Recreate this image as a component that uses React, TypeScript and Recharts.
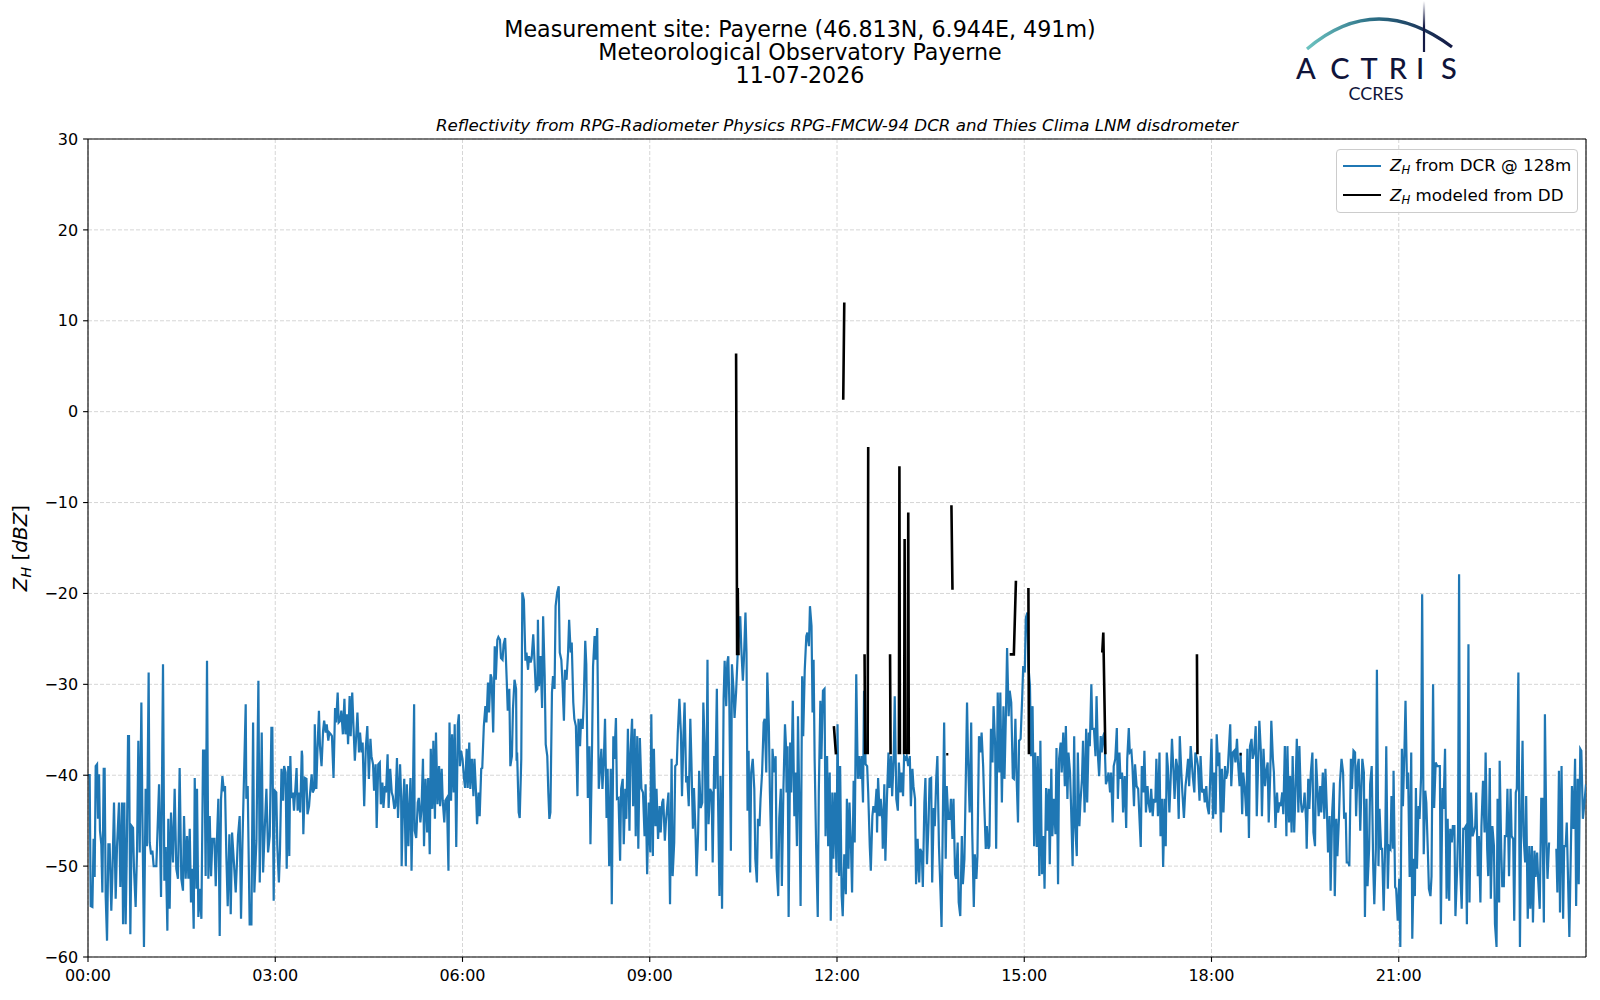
import React from 'react';
import { ComposedChart, Line, XAxis, YAxis, CartesianGrid, ReferenceLine } from 'recharts';

// ---- Tick definitions (minutes since 00:00 / dBZ) ----
const xMajorTicks = [0, 180, 360, 540, 720, 900, 1080, 1260];
const xMinorTicks = [0, 60, 120, 180, 240, 300, 360, 420, 480, 540, 600, 660, 720, 780, 840, 900, 960, 1020, 1080, 1140, 1200, 1260, 1320, 1380];
const yMajorTicks = [-60, -50, -40, -30, -20, -10, 0, 10, 20, 30];
const yMinorTicks = [-60, -58, -56, -54, -52, -50, -48, -46, -44, -42, -40, -38, -36, -34, -32, -30, -28, -26, -24, -22, -20, -18, -16, -14, -12, -10, -8, -6, -4, -2, 0, 2, 4, 6, 8, 10, 12, 14, 16, 18, 20, 22, 24, 26, 28, 30];

// ---- Z_H from DCR @ 128m : [minute of day, dBZ] ----
const dcr_00_03 = [[0,-40],[1.6,-40],[2.6,-54.4],[4.2,-54.5],[5.4,-47],[6.4,-51.2],[7.4,-39],[8.7,-38.8],[9.6,-44.8],[10.6,-39.9],[11.5,-46.1],[12.8,-47.6],[13.8,-52.9],[15.1,-39.3],[16,-39.3],[17,-53.3],[18.3,-58.2],[19.6,-47.6],[20.8,-47.6],[22.4,-54.9],[23.4,-51.2],[25,-43],[26.6,-53.6],[27.9,-47.8],[29.8,-43],[31.1,-52.3],[32.7,-43],[33.7,-56.4],[34.9,-43],[36.2,-56.4],[37.2,-49.2],[38.5,-35.7],[39.4,-35.7],[40.7,-57.5],[42,-45.6],[43.3,-45.8],[44.2,-50.3],[45.8,-54.5],[47.1,-48.5],[48.4,-36.2],[49.7,-48.5],[51.3,-32],[52.2,-43.4],[53.8,-58.9],[55.4,-41.5],[56.7,-47.8],[58.3,-28.7],[59.3,-47.4],[60.6,-48.7],[61.9,-48.3],[63.1,-50],[65.7,-50],[68.3,-41],[70.2,-53.4],[72.1,-27.8],[73.4,-51.6],[74.7,-47.9],[76.3,-57.1],[77.2,-44.8],[78.5,-54.7],[79.8,-44.1],[81.7,-49.6],[83.3,-41.5],[84.9,-50.3],[86.5,-51.4],[88.1,-39.2],[89.7,-51.4],[91.3,-52.7],[92.3,-44.5],[93.9,-51.4],[95.2,-46.7],[96.5,-51.4],[97.8,-45.9],[99,-54],[100.3,-50.3],[101.6,-56.9],[102.6,-40.3],[104.2,-52.5],[104.8,-41.5],[106.1,-55.6],[107.4,-52.5],[109,-55.8],[110.6,-37.3],[111.9,-37.3],[113.1,-51.1],[114.4,-27.4],[115.7,-51.4],[117,-44.5],[118.3,-51.1],[119.6,-47],[121.5,-47],[122.8,-52.2],[124,-47],[125.3,-42.6],[126.6,-57.7],[127.9,-42.6],[129.2,-40.1],[130.4,-41.5],[131.7,-41.2],[133,-48.9],[134.3,-54.4],[135.9,-46.5],[137.2,-55.3],[138.5,-46.3],[142,-52.9],[144.2,-46.7],[145.8,-44.5],[147.1,-55.8],[148.4,-47.8],[151.6,-32.2],[152.2,-42.6],[153.5,-41.2],[155.4,-56.4],[157.1,-56.4],[158.7,-34.2],[159.9,-52.9],[161.9,-47.2],[163.8,-29.6],[165.1,-51.8],[167,-35.3],[168.3,-50.7],[169.9,-45.9],[171.5,-41.5],[173.1,-48.5],[174.7,-46.7],[176.3,-34.8],[177.2,-34.8],[178.5,-53.8],[179.5,-41.7]];
const dcr_03_06 = [[181,-41.9],[182,-47.8],[183.5,-51.8],[184.5,-48.5],[186,-39.3],[187.5,-42.8],[188.5,-39],[190,-39.7],[191,-50.3],[192.5,-39],[193.5,-48.9],[194.5,-37.9],[195.5,-42.5],[197,-41.9],[198,-43.9],[199.5,-41.2],[200.5,-39.2],[201.5,-43.9],[202.5,-41.9],[204,-44.1],[205.5,-37.3],[206,-37.9],[207,-46.5],[208.5,-40.3],[210,-40.4],[211,-44.3],[212.5,-43.4],[213.5,-41.9],[215,-39.9],[216,-41.9],[217.5,-41.5],[218,-34.4],[219.5,-41.5],[220.5,-37.5],[222,-32.9],[223,-36.8],[224.5,-39],[226,-35.1],[227,-34],[228.5,-35.3],[229.5,-34.4],[231,-36.2],[232,-35.3],[233.5,-35.5],[234.5,-35.7],[236,-40.3],[237.5,-32.6],[238.5,-34.2],[240,-30.9],[241,-34.2],[242.5,-34],[243.5,-32.9],[245,-35.5],[246.5,-31.6],[247.5,-35.5],[249,-33.3],[250,-36.6],[251.5,-31.3],[252.5,-35.7],[254,-30.9],[255.5,-35.5],[256.5,-38.4],[258,-35.3],[259,-33.1],[260.5,-37.5],[261.5,-35.3],[263,-37.5],[264,-36.4],[265.5,-43.4],[267,-37.1],[268.5,-34.6],[270,-40.4],[271.5,-36],[272.5,-37.9],[274,-38.8],[275,-41.7],[276.5,-38.8],[277.5,-45.8],[279,-38.8],[280.5,-38.6],[281.5,-43.2],[283,-40.8],[284,-43.6],[285.5,-41.2],[286.5,-41.9],[288,-37.7],[289,-43.6],[290.5,-39.3],[292,-41.9],[293,-42.3],[294.5,-43.7],[295.5,-43.4],[297,-38.1],[298,-44.7],[300,-38.8],[301,-42.3],[301.5,-50],[302.5,-44.8],[304,-40.4],[305.5,-50],[306.5,-41],[308,-47.8],[309,-43.4],[310,-40.3],[311,-50.5],[312.5,-40.4],[313.5,-32.2],[314,-46.1],[315.5,-46.9],[317,-43],[318,-42.5],[319.5,-45.2],[320.5,-43.9],[322,-38.2],[323,-47.8],[324.5,-40.4],[326,-46.3],[327,-40.3],[328.5,-48.7],[329.5,-37.1],[331,-43.7],[332,-36.2],[333.5,-44.8],[334.5,-35.3],[336,-43.2],[337.5,-39],[338.5,-43.4],[340,-39.3],[341,-42.8],[342.5,-45.2],[343.5,-42.8],[345,-42.5],[346.5,-50.5],[347.5,-34.2],[349,-42.8],[350,-35.5],[351.5,-41.9],[352.5,-34.4],[354,-47.9],[355.5,-34.4],[356.5,-33.3],[357.5,-39],[358.5,-37.3]];
const dcr_06_09 = [[360,-38.2],[361.5,-40.4],[362.5,-41.4],[364,-37.1],[365,-41.4],[366.5,-36.4],[367.5,-41.5],[369,-38.2],[370.5,-42.3],[371.5,-38.2],[373,-41.9],[374,-45.4],[375.5,-41.9],[376.5,-44.5],[378,-39.3],[379,-39.2],[380.5,-34.6],[382,-32.4],[383,-34.2],[384.5,-29.8],[385.5,-33.1],[387,-28.9],[388,-29.3],[389.5,-35.3],[391,-25.8],[392,-29.5],[393.5,-25.1],[394.5,-24.8],[396,-25.1],[397,-27.1],[398.5,-27.3],[399.5,-25.6],[401,-24.9],[402.5,-29.5],[403.5,-32.9],[405,-30.5],[406,-39],[407.5,-37.9],[408.5,-32.7],[410,-29.5],[411.5,-30.5],[412,-38.4],[412.5,-37.5],[414,-44.1],[415,-44.7],[416.5,-38.2],[417.5,-19.9],[419,-20.7],[420.5,-27.4],[421.5,-26.5],[423,-28.4],[424,-26.9],[425.5,-27.6],[426.5,-27.1],[428,-24.5],[429,-26.9],[430.5,-30.7],[432,-30.5],[432.5,-22.9],[433.5,-30.2],[435,-26.9],[436.5,-32.6],[437.5,-22.5],[439,-29.1],[440,-36.6],[441.5,-37.9],[442.5,-41.9],[443.5,-44.8],[444.5,-44.1],[446,-30.9],[447,-29.1],[448.5,-30.5],[449.5,-21.4],[451,-19.9],[452.5,-19.2],[453.5,-26.5],[455,-27.3],[456,-29.5],[457.5,-34],[458.5,-28.4],[460,-29.5],[461.5,-26.5],[462.5,-22.9],[464,-26.5],[465,-25.4],[466.5,-32],[467.5,-33.8],[469,-34.6],[470.5,-42.3],[471.5,-33.8],[473,-36.8],[474,-33.8],[475.5,-34.9],[476.5,-32],[478,-25.2],[479,-27.8],[480.5,-42.5],[482,-36.8],[483,-47.6],[484.5,-37.1],[485.5,-28],[487,-24.7],[488,-27.3],[489.5,-23.8],[491,-41.5],[492,-39.7],[493.5,-37.1],[494.5,-41.5],[496,-37.9],[497,-33.8],[498.5,-44.7],[499.5,-39.3],[501,-50],[502.5,-39.3],[503.5,-54.2],[505,-35.7],[506,-38.2],[507.5,-33.7],[508.5,-42.6],[510,-42.5],[511.5,-49.4],[512.5,-41.5],[514,-40.4],[515,-47.6],[516.5,-41.5],[517.5,-44.8],[519,-34.9],[520.5,-46.1],[521.5,-37.5],[523,-33.8],[524,-43.4],[525.5,-34.9],[526.5,-46.7],[528,-35.7],[529,-48.1],[530.5,-35.9],[532,-41.5],[533.5,-41.9],[535,-46.7],[536,-41],[537.5,-50.9],[539,-43]];
const dcr_09_12 = [[540.5,-48.5],[541.5,-33.3],[543,-48.9],[544,-37.1],[545.5,-45.6],[546.5,-41.5],[548,-47],[549.5,-43.4],[550.5,-46.3],[552,-43],[553,-42.6],[554.5,-47.2],[555.5,-45.2],[557,-43.2],[558,-41.9],[559.5,-54.2],[561,-38.2],[562,-51.1],[563.5,-47.4],[564.5,-39],[566,-38.8],[567,-35.3],[568.5,-31.6],[570,-35.5],[571,-42.3],[572.5,-35.3],[573.5,-32],[575,-40.8],[576,-40.1],[577.5,-43.4],[579,-33.8],[580,-38.2],[581.5,-45.9],[582.5,-41.4],[584,-46.3],[585,-51.1],[586.5,-46.3],[587.5,-39.5],[589,-43.6],[590.5,-43],[591.5,-32],[593,-37.5],[594,-48.3],[595.5,-27.3],[596.5,-45.4],[598,-41.5],[599.5,-41.9],[600.5,-49.6],[602,-37.9],[603,-41.5],[604.5,-30.5],[605.5,-41.5],[607,-53.3],[608,-40.1],[609.5,-54.7],[611,-31.6],[612,-27.4],[613.5,-32.4],[614.5,-27.6],[615.5,-26.9],[616.5,-32],[618,-48.3],[619,-27.8],[620.5,-30.5],[621.5,-33.7],[623,-30.9],[624.5,-26.7],[625.5,-24.7],[627,-22.5],[628,-26],[629.5,-29.6],[630.5,-27.3],[632,-22.1],[633,-26.5],[634,-43.9],[635,-37.3],[636.5,-50.7],[637.5,-39.7],[639,-38.2],[640.5,-41.5],[641.5,-49.2],[643,-51.8],[644,-44.8],[645.5,-45.6],[646.5,-42.6],[648,-39.7],[649.5,-34.2],[650.5,-33.8],[652,-39.7],[653,-28.7],[654.5,-34.6],[655.5,-41.9],[657,-49.2],[658,-37.1],[659.5,-39.7],[661,-37.9],[662,-50.3],[663.5,-53.3],[664.5,-44.7],[666,-41.5],[667,-52.2],[668.5,-41.5],[670,-34.4],[671,-36.8],[671.5,-41.9],[672.5,-36.8],[673.5,-55.6],[675,-36.4],[676,-41.9],[677.5,-31.8],[679,-44.5],[680,-39.7],[681.5,-47.8],[682.5,-33.5],[684,-44.8],[685,-54.4],[686.5,-29.1],[687.5,-35.7],[689,-28.4],[690.5,-24.7],[691.5,-24.3],[693,-25.8],[694,-21.4],[695.5,-23.6],[696.5,-33.1],[697.5,-27.3],[698.5,-38.2],[700,-48.1],[701.5,-55.6],[702.5,-41.9],[704,-31.8],[705,-38.2],[706.5,-30.7],[708,-30.5],[709,-46.7],[710.5,-37.9],[711.5,-47.8],[713,-39.7],[714,-56],[715.5,-41.9],[716.5,-49.2],[718,-41.9],[719.5,-50.7]];
const dcr_12_15 = [[720.5,-34.4],[722,-51.1],[723,-39],[724.5,-53.3],[725.5,-55.5],[727,-48.7],[728.5,-53.1],[729.5,-42.6],[731,-50.3],[732,-43],[733.5,-48.1],[734.5,-52.9],[736,-40.6],[737,-47.4],[738.5,-28.9],[740,-40.4],[741,-37.9],[742.5,-40.4],[743.5,-37.9],[745,-43],[746,-30.7],[747.5,-38.8],[749,-39],[750,-41.9],[751.5,-47.8],[752.5,-50.5],[754,-44.5],[755,-43.4],[756.5,-44.1],[758,-41.5],[758.5,-46.3],[759.5,-40.3],[761,-44.5],[762,-42.6],[763.5,-44.8],[764,-48.1],[765.5,-41],[766.5,-49.4],[768,-42.6],[769.5,-37.5],[770.5,-41.4],[772,-37.9],[773,-42.3],[774.5,-38.2],[775.5,-31.3],[777,-42.6],[778.5,-43.9],[779.5,-38.6],[781,-41.9],[782,-39.7],[783.5,-42.3],[784.5,-37.9],[786,-38.2],[787,-37.9],[788.5,-39],[790,-37.9],[791,-43.4],[792.5,-39.3],[793.5,-41.2],[795,-42.6],[796,-52],[797.5,-47],[799,-51.8],[800,-48.1],[801.5,-48.5],[802.5,-52.3],[804,-43],[805,-40.3],[806.5,-49.8],[808,-45.2],[809,-40.4],[810.5,-40.3],[811.5,-51.8],[813,-43.6],[814,-45.6],[815.5,-40.1],[816.5,-37.9],[818,-47.8],[819.5,-52.9],[820.5,-56.7],[822,-42.3],[823,-34.2],[824.5,-49.2],[825.5,-41.2],[827,-44.8],[828.5,-44.8],[829.5,-42.6],[831,-47],[832,-42.6],[833.5,-50.9],[834.5,-51.4],[836,-47.4],[837,-54],[838.5,-55.5],[840,-46.7],[841,-52],[842.5,-49.2],[843.5,-42.6],[845,-32],[846,-38.2],[847.5,-44.1],[849,-34.2],[850,-46.3],[851.5,-54.5],[852.5,-48.7],[854,-51.4],[855,-48.9],[856.5,-35.7],[858,-37.5],[859,-35.3],[860.5,-39],[861.5,-43],[863,-48.1],[864,-45.6],[865.5,-48.1],[866.5,-47.8],[868,-34.9],[869.5,-38.6],[870.5,-32.4],[872,-36.6],[873,-48.1],[874.5,-30.9],[876,-39.7],[877,-30.9],[878.5,-43],[880,-32.4],[881,-40.4],[882.5,-32.6],[883.5,-26],[885,-33.5],[886,-30.7],[887.5,-32],[889,-40.3],[890,-40.4],[891.5,-33.8],[892.5,-39.7],[894,-45.2],[895,-36.2],[896.5,-36],[898,-31.5],[899,-28]];
const dcr_15_18 = [[900.5,-28.7],[901.5,-22.7],[903,-22.1],[904,-28],[905.5,-30.2],[906.5,-37.9],[908,-32.4],[909.5,-47.8],[910.5,-37.5],[912,-47.9],[913,-37.9],[914.5,-51.1],[915.5,-36.2],[917,-50.9],[918.5,-46.7],[919.5,-52.5],[921,-41.4],[922,-46.1],[923.5,-41.5],[924.5,-49.8],[926,-39.3],[927,-46.7],[928.5,-42.6],[930,-46.5],[931,-37],[932.5,-52],[933.5,-38.2],[935,-36.4],[936,-39.7],[937.5,-35.3],[939,-41.2],[940,-34.6],[941.5,-42.6],[942.5,-37.5],[944,-39.7],[945,-43.4],[946.5,-50],[948,-35.7],[949,-45.6],[950.5,-48.9],[951.5,-37.5],[953,-45.6],[954,-43],[955.5,-40.4],[956.5,-36.2],[958,-44.1],[959.5,-34.9],[960.5,-43],[962,-35.3],[963,-36.8],[964.5,-30],[965.5,-34.9],[967,-34.9],[968.5,-37.9],[969.5,-31.3],[971,-38.2],[972,-40.1],[973.5,-35.7],[974.5,-37.5],[976,-35.7],[977,-35.3],[978.5,-41],[980,-40.4],[981,-39.7],[982.5,-41.9],[983.5,-39.7],[985,-45.2],[986,-39],[987.5,-38.2],[989,-34.8],[990,-42.6],[991.5,-37.5],[992.5,-40.4],[994,-39.7],[995,-44.1],[996.5,-40.1],[998,-45.8],[999,-38.2],[1000.5,-34.8],[1001.5,-37.5],[1003,-37.3],[1004,-39],[1005.5,-43.4],[1006.5,-38.8],[1008,-41.2],[1009.5,-41.5],[1010.5,-44.1],[1012,-47.9],[1013,-39],[1014.5,-41.9],[1015.5,-37.3],[1017,-44.1],[1018.5,-41.2],[1019.5,-43],[1021,-44.1],[1022,-41.5],[1023.5,-44.5],[1024.5,-42.6],[1026,-43],[1027,-38.2],[1028.5,-44.5],[1030,-37.5],[1031,-46.7],[1032.5,-42.6],[1033.5,-50.1],[1035,-42.6],[1036,-47.8],[1037,-37.5],[1038,-39],[1039.5,-44.1],[1040.5,-41.2],[1042,-36],[1043.5,-39.7],[1044.5,-42.6],[1046,-38.2],[1047,-39],[1048.5,-44.8],[1049.5,-35.7],[1051,-39.7],[1052,-41.9],[1053.5,-44.7],[1055,-41.2],[1056,-40.1],[1057.5,-38.2],[1058.5,-41.2],[1060,-36.8],[1062,-40.1],[1063.5,-41.9],[1064.5,-37.5],[1066,-38.2],[1067,-39],[1068.5,-42.8],[1069.5,-37.9],[1071,-41.9],[1072.5,-41.5],[1073.5,-43],[1075,-41.2],[1076,-43.4],[1077.5,-44.3],[1078.5,-41.2]];
const dcr_18_21 = [[1080,-36],[1081.5,-44.8],[1082.5,-39.7],[1084,-44.3],[1085,-35.5],[1086.5,-39],[1087.5,-37.5],[1089,-46.3],[1090,-39.3],[1091.5,-44.1],[1093,-39],[1094,-40.4],[1095.5,-39.7],[1096.5,-37.5],[1098,-34.4],[1099,-41.2],[1100.5,-37.5],[1102,-37.3],[1103,-38.6],[1104.5,-36],[1105.5,-38.6],[1107,-41.2],[1108,-37.5],[1109.5,-44.3],[1110.5,-39.7],[1112,-41.5],[1113.5,-44.5],[1114.5,-37.1],[1116,-46.9],[1117,-36.8],[1118.5,-36],[1119.5,-38.2],[1121,-37.5],[1122.5,-34.6],[1123.5,-44.5],[1125,-37.9],[1126,-34],[1127.5,-37.5],[1128.5,-44.5],[1130,-37.1],[1131.5,-41.2],[1132.5,-39.7],[1134,-38.6],[1135,-45.2],[1136.5,-39.7],[1137.5,-34],[1139,-38.2],[1140,-39.7],[1141.5,-45.8],[1143,-41.9],[1144,-44.1],[1145.5,-43],[1146.5,-43.4],[1148,-41.9],[1149,-44.3],[1150.5,-36.8],[1152,-46.7],[1153,-36.8],[1154.5,-45.2],[1155.5,-40.1],[1157,-46.3],[1158,-37.9],[1159.5,-46.3],[1160.5,-42.6],[1162,-36],[1163.5,-44.1],[1164.5,-36.8],[1166,-43],[1167,-44.1],[1168.5,-43.4],[1169.5,-41.9],[1171,-45.2],[1171.5,-48.1],[1173,-40.4],[1174,-43.7],[1175.5,-39.7],[1177,-37.5],[1178,-46.3],[1179.5,-47.8],[1180.5,-38.2],[1182,-41.9],[1183,-44.5],[1184.5,-41.2],[1185.5,-44.1],[1187,-39.7],[1188.5,-44.8],[1189.5,-39.3],[1191,-44.1],[1192,-48.5],[1193.5,-44.5],[1194.5,-52.7],[1196,-44.1],[1197.5,-40.8],[1198.5,-53.3],[1200,-44.8],[1201,-48.9],[1202.5,-44.8],[1203.5,-40.8],[1205,-38.2],[1206.5,-39.7],[1207.5,-44.8],[1209,-44.1],[1210,-49.6],[1211.5,-49.6],[1212.5,-50],[1214,-38.2],[1215,-41.5],[1216.5,-37.3],[1218,-37.5],[1219,-44.5],[1220.5,-39],[1221.5,-38.2],[1223,-46.1],[1224,-41.9],[1225,-38.2],[1226.5,-39.7],[1227.5,-55.6],[1229,-42.6],[1230,-52.2],[1231.5,-48.1],[1232.5,-41],[1234,-39],[1235.5,-50.3],[1236.5,-54.2],[1238,-48.1],[1239,-28.4],[1240.5,-50],[1241.5,-43.7],[1243,-48.1],[1244,-48.1],[1245.5,-54.9],[1247,-47.4],[1248,-36.8],[1249.5,-52.5],[1250.5,-47.8],[1252,-48.1],[1253,-42.3],[1254.5,-48.1],[1255,-39.5],[1256.5,-52.3],[1257.5,-52.5],[1259,-56]];
const dcr_21_24 = [[1260.5,-51.4],[1261.5,-58.9],[1263,-37.1],[1264,-43.4],[1265.5,-37.1],[1266.5,-31.8],[1268,-41.5],[1269,-39.7],[1270.5,-51.2],[1272,-37.5],[1273,-58],[1274.5,-49.2],[1275.5,-53.3],[1276.5,-41.4],[1277.5,-50.3],[1279,-43.4],[1280,-44.8],[1281.5,-40.1],[1282.5,-20.1],[1284,-48.7],[1285.5,-41.7],[1286.5,-43],[1288,-48.5],[1289,-52.5],[1290.5,-53.3],[1291.5,-51.1],[1293,-30],[1294,-43.6],[1295.5,-38.6],[1297,-39],[1298,-39],[1299.5,-39],[1300.5,-56.4],[1302,-41.4],[1303,-43.7],[1304.5,-37.1],[1306,-53.6],[1307,-44.8],[1308.5,-53.8],[1309.5,-45.9],[1311,-47.4],[1312,-45.6],[1313.5,-45.6],[1314.5,-55.5],[1316,-50.7],[1317,-46.3],[1318,-17.9],[1319,-50],[1320.5,-54.7],[1322,-45.9],[1323,-45.9],[1324.5,-45.6],[1325.5,-56.4],[1327,-25.6],[1328,-54],[1329.5,-41.9],[1331,-46.7],[1332,-46.3],[1333.5,-45.6],[1334.5,-41.9],[1336,-51.1],[1337,-46.7],[1338.5,-54],[1339.5,-45.6],[1341,-40.6],[1342.5,-46.3],[1343.5,-37.5],[1345,-48.1],[1346,-51.1],[1347.5,-39.2],[1348.5,-53.6],[1350,-45.6],[1351.5,-47.8],[1352.5,-56.4],[1354,-58.9],[1355,-42.6],[1356.5,-54],[1357,-38.4],[1358.5,-48.1],[1359.5,-52.2],[1361,-52.2],[1362,-46.7],[1363.5,-46.7],[1364.5,-41.5],[1366,-51.1],[1367.5,-41.5],[1368.5,-46.7],[1370,-47],[1371,-56],[1372.5,-41.9],[1373.5,-41.5],[1375,-28.7],[1376.5,-58.9],[1377.5,-46.7],[1379,-36.2],[1380,-46.7],[1381.5,-49.6],[1382.5,-42.3],[1384,-55.8],[1385.5,-47.8],[1386.5,-54.7],[1388,-47.8],[1389,-56.2],[1390.5,-48.3],[1391.5,-51.2],[1393,-48.5],[1394,-51.4],[1395.5,-54.7],[1397,-42.6],[1398,-42.6],[1399.5,-56.2],[1400.5,-33.3],[1402,-47.4],[1403,-51.4],[1404.5,-47.4],[1408,null],[1411.5,-48.1],[1412.5,-52.9],[1414,-39.5],[1415,-55.1],[1416.5,-39],[1418,-55.8],[1419,-47.8],[1420.5,-47.8],[1421.5,-45.2],[1424,-57.8],[1426.5,-41.2],[1428,-45.9],[1429.5,-38.2],[1430.5,-54.4],[1432,-40.4],[1433,-52],[1434.5,-37.1],[1435.5,-37.3],[1437,-44.8],[1438.5,-43],[1440,-41]];

// ---- Z_H modeled from disdrometer (null = no precipitation / gap) ----
const ddSeries = [[623,6.4],[624,-26.8],[624.6,-19.4],[625.3,-26.8],[626,null],[717,-34.6],[719,-37.7],[720,null],[726,1.3],[727,12],[728,null],[746.5,-26.7],[747,-37.7],[748,null],[749.5,-37.7],[750,-3.9],[751,null],[771,-26.7],[771.5,-37.7],[772,null],[779.5,-37.7],[780,-6],[780.5,-37.7],[781,null],[784.5,-37.7],[785,-14],[785.5,-37.7],[786,null],[788,-37.7],[788.5,-11.1],[789,-37.7],[790,null],[825,-37.7],[827,-37.7],[828,null],[830,-10.3],[831,-19.6],[832,null],[886,-26.7],[890,-26.7],[892,-18.6],[893,null],[904,-19.4],[904.5,-37.7],[905,null],[975,-26.5],[976,-24.3],[978,-37.7],[979,null],[1066,-26.7],[1066.5,-37.7],[1067,null],[1107,-37.7],[1109,-37.7]];

const titleLines = ['Measurement site: Payerne (46.813N, 6.944E, 491m)', 'Meteorological Observatory Payerne', '11-07-2026'];
const subtitle = 'Reflectivity from RPG-Radiometer Physics RPG-FMCW-94 DCR and Thies Clima LNM disdrometer';

const toRows = (pairs: (number | null)[][]) => pairs.map(([t, v]) => ({ t, v }));
const dcrData = toRows([...dcr_00_03, ...dcr_03_06, ...dcr_06_09, ...dcr_09_12, ...dcr_12_15, ...dcr_15_18, ...dcr_18_21, ...dcr_21_24]);
const ddData = toRows(ddSeries);

const FONT = '"DejaVu Sans", sans-serif';
const TICK_FS = 16;
const fmtTime = (m: number) => `${String(Math.floor(m / 60)).padStart(2, '0')}:${String(m % 60).padStart(2, '0')}`;
const fmtY = (v: number) => (v < 0 ? '\u2212' + Math.abs(v) : String(v));

const ZH = () => (
  <span><i>Z</i><sub style={{ fontSize: '0.7em', fontStyle: 'italic', verticalAlign: '-0.25em' }}>H</sub></span>
);

const Logo = () => (
  <svg width={1600} height={110} style={{ position: 'absolute', left: 0, top: 0 }}>
    <defs>
      <linearGradient id="arcG" x1="1307" y1="0" x2="1451" y2="0" gradientUnits="userSpaceOnUse">
        <stop offset="0" stopColor="#6cc3c0" />
        <stop offset="0.45" stopColor="#2c6f86" />
        <stop offset="1" stopColor="#141a45" />
      </linearGradient>
      <linearGradient id="vG" x1="0" y1="1" x2="0" y2="52" gradientUnits="userSpaceOnUse">
        <stop offset="0" stopColor="#ffffff" />
        <stop offset="0.5" stopColor="#141a45" />
        <stop offset="1" stopColor="#141a45" />
      </linearGradient>
    </defs>
    <path d="M1307 49 Q1376 -10 1452 47" fill="none" stroke="url(#arcG)" strokeWidth={3.2} />
    <line x1={1424} y1={1} x2={1424} y2={52} stroke="url(#vG)" strokeWidth={2.2} />
    <text x="1306 1340 1369 1398 1420 1449" y={78.5} fontSize={29} fontWeight={500} fontFamily="Lato, sans-serif" fill="#10143a" textAnchor="middle">ACTRIS</text>
    <text x={1376} y={99.5} fontSize={18} fontFamily="Lato, sans-serif" fill="#10143a" textAnchor="middle">CCRES</text>
  </svg>
);

export default function App() {
  return (
    <div style={{ position: 'absolute', left: 0, top: 0, width: 1600, height: 1000, background: '#fff', fontFamily: FONT, color: '#000' }}>
      {titleLines.map((s, i) => (
        <div key={i} style={{ position: 'absolute', left: 0, width: 1600, top: 16 + i * 23, textAlign: 'center', fontSize: 22.2, lineHeight: '26px', whiteSpace: 'nowrap' }}>{s}</div>
      ))}
      <div style={{ position: 'absolute', left: 88, width: 1498, top: 115, textAlign: 'center', fontSize: 16.7, fontStyle: 'italic', lineHeight: '21px', whiteSpace: 'nowrap' }}>{subtitle}</div>
      <Logo />
      <div style={{ position: 'absolute', left: 23, top: 548, transform: 'translate(-50%, -50%) rotate(-90deg)', fontSize: 20, whiteSpace: 'nowrap', lineHeight: '24px' }}>
        <ZH /> [<i>dBZ</i>]
      </div>
      <ComposedChart width={1600} height={1000} margin={{ top: 139, right: 14, bottom: 13, left: 28 }} style={{ position: 'absolute', left: 0, top: 0 }}>
        <CartesianGrid stroke="#d6d6d6" strokeDasharray="4 2" strokeWidth={1} />
        <XAxis xAxisId="minor" type="number" dataKey="t" domain={[0, 1440]} ticks={xMinorTicks} interval={0} tick={false} tickSize={2.8} height={0} axisLine={false} tickLine={{ stroke: '#000', strokeWidth: 1 }} allowDataOverflow />
        <XAxis type="number" dataKey="t" domain={[0, 1440]} ticks={xMajorTicks} interval={0} tickFormatter={fmtTime} tickSize={4.9} tickMargin={8} height={30} axisLine={{ stroke: '#000', strokeWidth: 1.1 }} tickLine={{ stroke: '#000', strokeWidth: 1.1 }} tick={{ fill: '#000', fontSize: TICK_FS, fontFamily: FONT }} allowDataOverflow />
        <YAxis yAxisId="minor" type="number" domain={[-60, 30]} ticks={yMinorTicks} interval={0} tick={false} tickSize={2.8} width={0} axisLine={false} tickLine={{ stroke: '#000', strokeWidth: 1 }} allowDataOverflow />
        <YAxis type="number" domain={[-60, 30]} ticks={yMajorTicks} interval={0} tickFormatter={fmtY} tickSize={4.9} tickMargin={4.9} width={60} axisLine={{ stroke: '#000', strokeWidth: 1.1 }} tickLine={{ stroke: '#000', strokeWidth: 1.1 }} tick={{ fill: '#000', fontSize: TICK_FS, fontFamily: FONT }} allowDataOverflow />
        <ReferenceLine y={30} stroke="#000" strokeWidth={1.1} />
        <ReferenceLine x={1440} stroke="#000" strokeWidth={1.1} />
        <Line data={dcrData} dataKey="v" type="linear" stroke="#1f77b4" strokeWidth={2.2} dot={false} activeDot={false} isAnimationActive={false} connectNulls={false} />
        <Line data={ddData} dataKey="v" type="linear" stroke="#000" strokeWidth={2.6} dot={false} activeDot={false} isAnimationActive={false} connectNulls={false} />
      </ComposedChart>
      <div style={{ position: 'absolute', left: 1336, top: 149, width: 242, height: 64, border: '1px solid #cccccc', borderRadius: 4, background: 'rgba(255,255,255,0.8)', boxSizing: 'border-box', fontSize: 16.7 }}>
        <div style={{ position: 'absolute', left: 6, top: 14.5, width: 38, height: 2.2, background: '#1f77b4' }} />
        <div style={{ position: 'absolute', left: 53, top: 3, lineHeight: '24px', whiteSpace: 'nowrap' }}><ZH /> from DCR @ 128m</div>
        <div style={{ position: 'absolute', left: 6, top: 44, width: 38, height: 2.2, background: '#000' }} />
        <div style={{ position: 'absolute', left: 53, top: 32.5, lineHeight: '24px', whiteSpace: 'nowrap' }}><ZH /> modeled from DD</div>
      </div>
    </div>
  );
}
